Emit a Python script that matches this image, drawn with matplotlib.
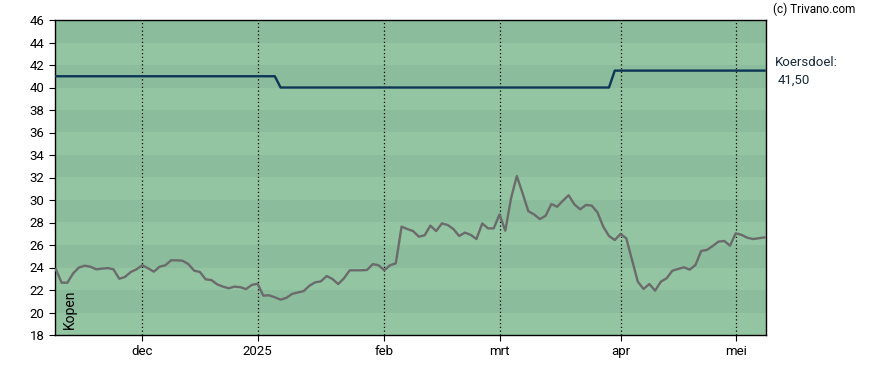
import numpy as np
import matplotlib.pyplot as plt

plt.rcParams['font.family'] = ['Roboto', 'DejaVu Sans']

# Koers per handelsdag (11 nov 2024 .. 9 mei 2025)
price = [23.84, 22.65, 22.65, 23.48, 24.0, 24.16, 24.07, 23.84, 23.9, 23.95,
         23.84, 23.0, 23.16, 23.6, 23.84, 24.2, 23.93, 23.63, 24.07, 24.2,
         24.64, 24.64, 24.6, 24.3, 23.72, 23.6, 22.95, 22.88, 22.5, 22.3,
         22.15, 22.3, 22.25, 22.08, 22.45, 22.56, 21.5, 21.53, 21.35, 21.14,
         21.3, 21.65, 21.78, 21.9, 22.38, 22.68, 22.77, 23.24, 22.98, 22.53,
         23.04, 23.75, 23.75, 23.75, 23.78, 24.3, 24.2, 23.75, 24.2, 24.37,
         27.63, 27.42, 27.24, 26.74, 26.86, 27.72, 27.24, 27.92, 27.78, 27.42,
         26.8, 27.1, 26.9, 26.53, 27.92, 27.48, 27.48, 28.72, 27.27, 30.15,
         32.13, 30.6, 29.0, 28.72, 28.3, 28.6, 29.64, 29.4, 29.94, 30.42,
         29.6, 29.17, 29.56, 29.5, 28.9, 27.63, 26.8, 26.44, 26.98, 26.6,
         24.67, 22.74, 22.09, 22.53, 21.94, 22.74, 23.04, 23.72, 23.87, 24.02,
         23.81, 24.22, 25.47, 25.56, 25.91, 26.3, 26.36, 25.94, 27.04, 26.9,
         26.65, 26.53, 26.6, 26.68]

# Koersdoel per handelsdag
target = [41.0] * 39 + [40.0] * 58 + [41.5] * 27

month_pos = [15, 35, 57, 77, 98, 118]
month_labels = ['dec', '2025', 'feb', 'mrt', 'apr', 'mei']

x = np.arange(len(price))

fig = plt.figure(figsize=(8.88, 3.7), dpi=100)
ax = fig.add_axes([55 / 888, 35 / 370, 711 / 888, 315 / 370])

# gestreepte achtergrond
for lo in range(18, 46, 2):
    col = '#8bbc9b' if (lo // 2) % 2 == 0 else '#93c5a3'
    ax.axhspan(lo, lo + 2, color=col, lw=0, zorder=0)

for p in month_pos:
    ax.axvline(p, color='black', lw=0.9, ls=(0, (1, 2)), zorder=1)

ax.plot(x, target, color='#0d3556', lw=1.7, zorder=3)
ax.plot(x, price, color='#6b6b6b', lw=1.7, zorder=3)

ax.set_xlim(-0.15, 123.25)
ax.set_ylim(18, 46)
ax.set_yticks(range(18, 47, 2))
ax.set_xticks(month_pos)
ax.set_xticklabels(month_labels)
ax.tick_params(labelsize=9.5, length=4, colors='black')
for s in ax.spines.values():
    s.set_color('black')
    s.set_linewidth(1)

ax.text(1.2, 18.5, 'Kopen', rotation=90, fontsize=10, ha='left', va='bottom')

fig.text(773 / 888, 1 - 9 / 370, '(c) Trivano.com', fontsize=8.5, va='center', ha='left')
fig.text(775 / 888, 1 - 62 / 370, 'Koersdoel:', fontsize=9.5, va='center', ha='left',
         color='#1a2a3a')
fig.text(778 / 888, 1 - 80 / 370, '41,50', fontsize=9.5, va='center', ha='left',
         color='#1a2a3a')

fig.savefig('out.png', dpi=100)
